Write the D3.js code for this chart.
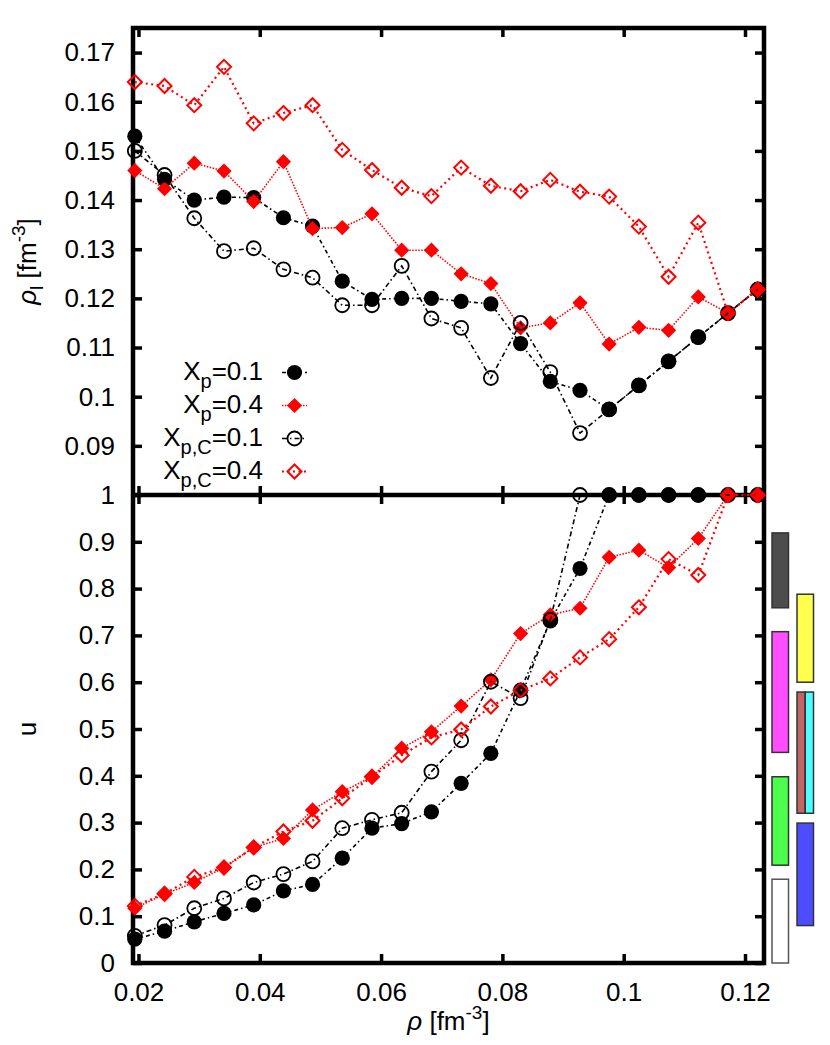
<!DOCTYPE html>
<html><head><meta charset="utf-8">
<script src="https://cdn.jsdelivr.net/npm/d3@7"></script>
<style>
body{margin:0;background:#fff;}
text{font-family:"Liberation Sans",Arial,Helvetica,sans-serif;}
</style></head>
<body>
<script>
// ---------- data ----------
const rho = [0.0194,0.0243,0.0292,0.0341,0.0390,0.0439,0.0487,0.0536,0.0585,0.0634,0.0683,
             0.0732,0.0781,0.0830,0.0879,0.0928,0.0976,0.1025,0.1074,0.1123,0.1172,0.1221];

const rhoL_Xp01  = [0.1530,0.1442,0.1400,0.1406,0.1405,0.1364,0.1347,0.1235,0.1198,0.1200,0.1200,
                    0.1194,0.1189,0.1108,0.1031,0.1013,0.0974,0.1023,0.1072,0.1121,0.1170,0.1218];
const rhoL_Xp04  = [0.1460,0.1423,0.1475,0.1459,0.1397,0.1478,0.1342,0.1344,0.1372,0.1298,0.1298,
                    0.1250,0.1230,0.1140,0.1150,0.1191,0.1107,0.1141,0.1135,0.1203,0.1170,0.1220];
const rhoL_XpC01 = [0.1500,0.1451,0.1363,0.1296,0.1302,0.1259,0.1242,0.1186,0.1186,0.1266,0.1159,
                    0.1140,0.1038,0.1150,0.1050,0.0926,0.0974,0.1023,0.1072,0.1121,0.1170,0.1218];
const rhoL_XpC04 = [0.1640,0.1632,0.1593,0.1671,0.1556,0.1577,0.1593,0.1502,0.1461,0.1425,0.1408,
                    0.1466,0.1429,0.1418,0.1441,0.1417,0.1407,0.1346,0.1244,0.1354,0.1170,0.1218];

const u_Xp01  = [0.051,0.068,0.088,0.106,0.124,0.154,0.168,0.224,0.288,0.298,0.323,
                 0.384,0.448,0.583,0.731,0.843,1,1,1,1,1,1];
const u_Xp04  = [0.117,0.147,0.172,0.204,0.247,0.266,0.327,0.366,0.398,0.459,0.494,
                 0.549,0.605,0.704,0.744,0.758,0.867,0.882,0.845,0.907,1,1];
const u_XpC01 = [0.058,0.081,0.117,0.138,0.172,0.190,0.217,0.288,0.306,0.321,0.409,
                 0.476,0.601,0.566,0.733,1,1,1,1,1,1,1];
const u_XpC04 = [0.122,0.148,0.184,0.204,0.247,0.281,0.304,0.352,0.398,0.444,0.482,
                 0.499,0.548,0.583,0.608,0.653,0.692,0.760,0.863,0.829,1,1];

const legendLabels = [["X","p","=0.1"],["X","p","=0.4"],["X","p,C","=0.1"],["X","p,C","=0.4"]];

const xTicks    = [0.02,0.04,0.06,0.08,0.10,0.12];
const yTopTicks = [0.09,0.10,0.11,0.12,0.13,0.14,0.15,0.16,0.17];
const yBotTicks = [0,0.1,0.2,0.3,0.4,0.5,0.6,0.7,0.8,0.9,1];

// side bars: u ranges, colour, column, part (0 full,1 left half,2 right half)
const barU0    = [0.000,0.209,0.450,0.759,0.080,0.320,0.320,0.600];
const barU1    = [0.179,0.398,0.708,0.919,0.299,0.579,0.579,0.788];
const barColor = ["#ffffff","#4dff4d","#ff4dff","#4d4d4d","#4d4dff","#c06666","#4dffff","#ffff4d"];
const barCol   = [0,0,0,0,1,1,1,1];
const barPart  = [0,0,0,0,0,1,2,0];

// ---------- layout ----------
const W = 830, H = 1045;
const L = 133, R = 764, T = 28, M = 495, B = 963;
const FS = 26;

const svg = d3.select("body").append("svg").attr("width",W).attr("height",H);

const x = d3.scaleLinear().domain([0.019,0.123]).range([132.4,763.2]);
const yTop = d3.scaleLinear().domain([0.08,0.175]).range([M,T]);
const yBot = d3.scaleLinear().domain([0,1]).range([B,M]);

const fmt = d => String(+d.toFixed(2));

function styleAxis(g){
  g.select(".domain").remove();
  g.selectAll(".tick line").attr("stroke","#000").attr("stroke-width",3.5);
  g.selectAll(".tick text").attr("font-size",FS).attr("fill","#000")
   .attr("font-family",'"Liberation Sans",Arial,sans-serif');
}
const TL = 9;
// left axes
svg.append("g").attr("transform",`translate(${L},0)`)
  .call(d3.axisLeft(yTop).tickValues(yTopTicks).tickFormat(fmt).tickSize(-TL).tickPadding(18)).call(styleAxis);
svg.append("g").attr("transform",`translate(${L},0)`)
  .call(d3.axisLeft(yBot).tickValues(yBotTicks).tickFormat(fmt).tickSize(-TL).tickPadding(18)).call(styleAxis);
// right axes
svg.append("g").attr("transform",`translate(${R},0)`)
  .call(d3.axisRight(yTop).tickValues(yTopTicks).tickFormat("").tickSize(-TL)).call(styleAxis);
svg.append("g").attr("transform",`translate(${R},0)`)
  .call(d3.axisRight(yBot).tickValues(yBotTicks).tickFormat("").tickSize(-TL)).call(styleAxis);
// x axes
svg.append("g").attr("transform",`translate(0,${T})`)
  .call(d3.axisTop(x).tickValues(xTicks).tickFormat("").tickSize(-TL)).call(styleAxis);
svg.append("g").attr("transform",`translate(0,${M})`)
  .call(d3.axisBottom(x).tickValues(xTicks).tickFormat("").tickSize(-TL)).call(styleAxis);
svg.append("g").attr("transform",`translate(0,${M})`)
  .call(d3.axisTop(x).tickValues(xTicks).tickFormat("").tickSize(-TL)).call(styleAxis);
svg.append("g").attr("transform",`translate(0,${B})`)
  .call(d3.axisBottom(x).tickValues(xTicks).tickFormat(fmt).tickSize(-TL).tickPadding(20)).call(styleAxis);

// frame
svg.append("rect").attr("x",L).attr("y",T).attr("width",R-L).attr("height",B-T)
  .attr("fill","none").attr("stroke","#000").attr("stroke-width",4.5);
svg.append("line").attr("x1",L).attr("x2",R).attr("y1",M).attr("y2",M)
  .attr("stroke","#000").attr("stroke-width",4.5);

// side bars
const colX = [772, 797], colW = 16.5;
barU0.forEach((u0,i)=>{
  let bx = colX[barCol[i]], bw = colW;
  if (barPart[i]===1){ bw = colW/2; }
  if (barPart[i]===2){ bx = colX[barCol[i]]+colW/2; bw = colW/2; }
  svg.append("rect").attr("x",bx).attr("y",yBot(barU1[i])).attr("width",bw)
    .attr("height",yBot(u0)-yBot(barU1[i])).attr("fill",barColor[i])
    .attr("stroke", i===0 ? "#555" : "#333").attr("stroke-width",1.5);
});

// ---------- series ----------
const series = [
  {top:rhoL_Xp01, bot:u_Xp01,  color:"#000", shape:"circle",  filled:true,  dash:"4,3,1.5,3", lw:1.6},
  {top:rhoL_Xp04, bot:u_Xp04,  color:"#f00", shape:"diamond", filled:true,  dash:"1.5,1.5",   lw:1.6},
  {top:rhoL_XpC01,bot:u_XpC01, color:"#000", shape:"circle",  filled:false, dash:"5,3,1.5,3", lw:1.6},
  {top:rhoL_XpC04,bot:u_XpC04, color:"#f00", shape:"diamond", filled:false, dash:"2,3.5",     lw:2.2},
];

function marker(g, cx, cy, s){
  if (s.shape==="circle"){
    g.append("circle").attr("cx",cx).attr("cy",cy).attr("r", s.filled?7.6:7)
      .attr("fill", s.filled ? s.color : "none")
      .attr("stroke", s.color).attr("stroke-width", s.filled?0:1.8);
  } else {
    const h = s.filled ? 7.6 : 7;
    g.append("path").attr("d",`M${cx},${cy-h}L${cx+h},${cy}L${cx},${cy+h}L${cx-h},${cy}Z`)
      .attr("fill", s.filled ? s.color : "none")
      .attr("stroke", s.color).attr("stroke-width", s.filled?0:2);
  }
}

series.forEach(s=>{
  [[s.top,yTop],[s.bot,yBot]].forEach(([vals,ys])=>{
    const g = svg.append("g");
    const line = d3.line().x((d,i)=>x(rho[i])).y(d=>ys(d));
    g.append("path").datum(vals).attr("d",line).attr("fill","none")
      .attr("stroke",s.color).attr("stroke-width",s.lw).attr("stroke-dasharray",s.dash);
    vals.forEach((v,i)=>marker(g, x(rho[i]), ys(v), s));
  });
});

// ---------- legend ----------
const legRowY = [372.5, 405.5, 438.5, 471.5];
legendLabels.forEach((lab,i)=>{
  const y = legRowY[i];
  const t = svg.append("text").attr("x",263).attr("y",y+7).attr("text-anchor","end").attr("font-size",FS);
  t.append("tspan").text(lab[0]);
  t.append("tspan").attr("font-size",20).attr("dy",8).text(lab[1]);
  t.append("tspan").attr("dy",-8).text(lab[2]);
  const s = series[i];
  svg.append("line").attr("x1",282).attr("x2",307).attr("y1",y).attr("y2",y)
    .attr("stroke",s.color).attr("stroke-width",s.lw).attr("stroke-dasharray",s.dash);
  marker(svg, 294.5, y, s);
});

// ---------- axis titles ----------
const yl = svg.append("text").attr("transform",`translate(36,${(T+M)/2}) rotate(-90)`)
  .attr("text-anchor","middle").attr("font-size",FS);
yl.append("tspan").attr("font-style","italic").text("ρ");
yl.append("tspan").attr("font-size",19).attr("dy",7).text("l");
yl.append("tspan").attr("dy",-7).text(" [fm");
yl.append("tspan").attr("font-size",19).attr("dy",-11).text("-3");
yl.append("tspan").attr("dy",11).text("]");

svg.append("text").attr("transform",`translate(36,${(M+B)/2}) rotate(-90)`)
  .attr("text-anchor","middle").attr("font-size",FS).text("u");

const xl = svg.append("text").attr("x",(L+R)/2).attr("y",1030)
  .attr("text-anchor","middle").attr("font-size",FS);
xl.append("tspan").attr("font-style","italic").text("ρ");
xl.append("tspan").text(" [fm");
xl.append("tspan").attr("font-size",19).attr("dy",-11).text("-3");
xl.append("tspan").attr("dy",11).text("]");
</script>
</body></html>
